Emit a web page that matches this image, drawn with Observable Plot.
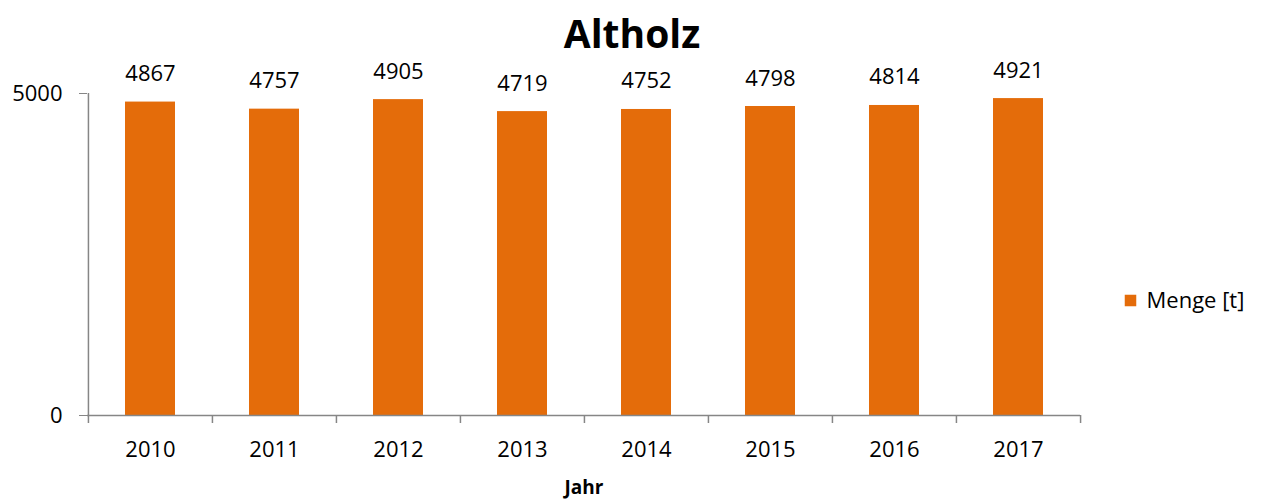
<!DOCTYPE html>
<html><head><meta charset="utf-8">
<script src="https://cdn.jsdelivr.net/npm/d3@7"></script>
<script src="https://cdn.jsdelivr.net/npm/@observablehq/plot@0.6"></script>
<style>body{margin:0;background:#fff}</style>
</head><body><div id="chart"></div>
<script>
const years = ["2010","2011","2012","2013","2014","2015","2016","2017"];
const menge = [4867,4757,4905,4719,4752,4798,4814,4921];
const yTicks = [0,5000];
const title = "Altholz";
const xLabel = "Jahr";
const seriesName = "Menge [t]";

const data = years.map((y,i)=>({jahr:y, menge:menge[i]}));
const W=1263,H=501,ML=87,MR=183,MT=93,MB=86;
const step=(W-ML-MR)/years.length;
const orange="#E46C0A", gray="#868686";
const font="'Open Sans', Calibri, sans-serif";

const chart = Plot.plot({
  width:W,height:H,marginLeft:ML,marginRight:MR,marginTop:MT,marginBottom:MB,
  style:{fontFamily:font,fontSize:"22px",color:"#000",background:"#fff",overflow:"visible"},
  x:{domain:years,paddingInner:0.6,paddingOuter:0.3,label:null},
  y:{domain:[0,5000],label:null},
  marks:[
    Plot.barY(data,{x:"jahr",y:"menge",fill:orange}),
    Plot.text(data,{x:"jahr",y:"menge",text:d=>String(d.menge),lineAnchor:"bottom",dy:-21,fontSize:22}),
    Plot.ruleY([0],{stroke:gray,strokeWidth:1.5}),
    Plot.ruleX([years[0]],{dx:-step/2,y1:0,y2:5000,stroke:gray,strokeWidth:1.5}),
    Plot.ruleX(years,{dx:-step/2,y1:0,y2:0,insetBottom:-8,stroke:gray,strokeWidth:1.5}),
    Plot.ruleX([years[years.length-1]],{dx:step/2,y1:0,y2:0,insetBottom:-8,stroke:gray,strokeWidth:1.5}),
    Plot.axisY({ticks:yTicks,tickSize:8,tickPadding:17,stroke:gray,tickFormat:d=>String(d),fontSize:22}),
    Plot.axisX({tickSize:0,tickPadding:26,fontSize:22}),
    Plot.text([title],{frameAnchor:"top",dx:48,dy:-58,fontSize:39,fontWeight:"bold",lineAnchor:"middle"}),
    Plot.text([xLabel],{frameAnchor:"bottom",dy:72,fontSize:19,fontWeight:"bold",lineAnchor:"middle"}),
    Plot.dot([seriesName],{frameAnchor:"right",dx:50,dy:46,symbol:"square",r:6.5,fill:orange}),
    Plot.text([seriesName],{frameAnchor:"right",dx:66,dy:46,textAnchor:"start",lineAnchor:"middle",fontSize:22})
  ]
});
document.getElementById("chart").append(chart);
</script></body></html>
